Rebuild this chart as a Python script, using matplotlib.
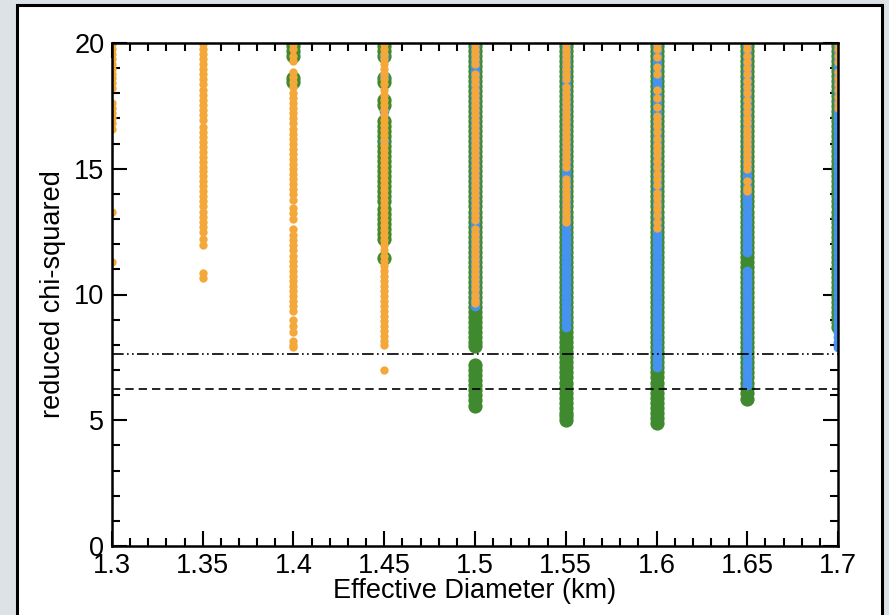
import matplotlib
matplotlib.use("Agg")
import matplotlib.pyplot as plt
from matplotlib.patches import Rectangle
from matplotlib.ticker import MultipleLocator

plt.rcParams['font.family'] = ['Liberation Sans', 'DejaVu Sans']

# ---------------- data ----------------
diameters = [1.30, 1.35, 1.40, 1.45, 1.50, 1.55, 1.60, 1.65, 1.70]

green_chi2 = {
    1.40: [19.9, 19.7, 19.5, 18.6, 18.45],
    1.45: [19.9, 19.7, 19.5, 18.6, 18.45, 17.75, 17.55, 16.9, 16.7, 16.5, 16.3, 16.1, 15.9,
           15.7, 15.5, 15.3, 15.1, 14.9, 14.7, 14.5, 14.3, 14.1, 13.9, 13.7, 13.4, 13.2,
           13.0, 12.8, 12.6, 12.4, 12.2, 11.45],
    1.50: [19.9, 19.7, 19.5, 19.3, 19.1, 18.9, 18.7, 18.5, 18.3, 18.1, 17.9, 17.7, 17.5,
           17.3, 17.1, 16.9, 16.7, 16.5, 16.3, 16.1, 15.9, 15.7, 15.5, 15.3, 15.1, 14.9,
           14.7, 14.5, 14.3, 14.1, 13.9, 13.7, 13.5, 13.3, 13.1, 12.9, 12.7, 12.5, 12.3,
           12.1, 11.9, 11.7, 11.5, 11.3, 11.1, 10.9, 10.7, 10.5, 10.3, 10.1, 9.9, 9.7,
           9.5, 9.3, 9.1, 8.9, 8.7, 8.5, 8.3, 8.1, 7.95,
           7.2, 7.0, 6.8, 6.6, 6.4, 6.2, 6.0, 5.8, 5.55],
    1.55: [19.9, 19.7, 19.5, 19.3, 19.1, 18.9, 18.7, 18.5, 18.3, 18.1, 17.9, 17.7, 17.5,
           17.3, 17.1, 16.9, 16.7, 16.5, 16.3, 16.1, 15.9, 15.7, 15.5, 15.3, 15.1, 14.9,
           14.7, 14.5, 14.3, 14.1, 13.9, 13.7, 13.5, 13.3, 13.1, 12.9, 12.7, 12.5, 12.3,
           12.1, 11.9, 11.7, 11.5, 11.3, 11.1, 10.9, 10.7, 10.5, 10.3, 10.1, 9.9, 9.7,
           9.5, 9.3, 9.1, 8.9, 8.7, 8.5, 8.3, 8.1, 7.9, 7.7, 7.5, 7.3, 7.1, 6.9, 6.7,
           6.5, 6.3, 6.1, 5.9, 5.7, 5.5, 5.3, 5.15, 5.0],
    1.60: [19.9, 19.7, 19.5, 19.3, 19.1, 18.9, 18.7, 18.5, 18.3, 18.1, 17.9, 17.7, 17.5,
           17.3, 17.1, 16.9, 16.7, 16.5, 16.3, 16.1, 15.9, 15.7, 15.5, 15.3, 15.1, 14.9,
           14.7, 14.5, 14.3, 14.1, 13.9, 13.7, 13.5, 13.3, 13.1, 12.9, 12.7, 12.5, 12.3,
           12.1, 11.9, 11.7, 11.5, 11.3, 11.1, 10.9, 10.7, 10.5, 10.3, 10.1, 9.9, 9.7,
           9.5, 9.3, 9.1, 8.9, 8.7, 8.5, 8.3, 8.1, 7.9, 7.7, 7.5, 7.3, 7.1, 6.9, 6.7,
           6.5, 6.3, 6.1, 5.9, 5.7, 5.5, 5.3, 5.1, 4.9],
    1.65: [19.9, 19.7, 19.5, 19.3, 19.1, 18.9, 18.7, 18.5, 18.3, 18.1, 17.9, 17.7, 17.5,
           17.3, 17.1, 16.9, 16.7, 16.5, 16.3, 16.1, 15.9, 15.7, 15.5, 15.3, 15.1, 14.9,
           14.7, 14.5, 14.3, 14.1, 13.9, 13.7, 13.5, 13.3, 13.1, 12.9, 12.7, 12.5, 12.3,
           12.1, 11.9, 11.7, 11.5, 11.3, 11.1, 10.9, 10.7, 10.5, 10.3, 10.1, 9.9, 9.7,
           9.5, 9.3, 9.1, 8.9, 8.7, 8.5, 8.3, 8.1, 7.9, 7.7, 7.5, 7.3, 7.1, 6.9, 6.7,
           6.5, 6.3, 6.1, 5.85],
    1.70: [19.9, 19.7, 19.5, 19.3, 19.1, 18.9, 18.7, 18.5, 18.3, 18.1, 17.9, 17.7, 17.5,
           17.3, 17.1, 16.9, 16.7, 16.5, 16.3, 16.1, 15.9, 15.7, 15.5, 15.3, 15.1, 14.9,
           14.7, 14.5, 14.3, 14.1, 13.9, 13.7, 13.5, 13.3, 13.1, 12.9, 12.7, 12.5, 12.3,
           12.1, 11.9, 11.7, 11.5, 11.3, 11.1, 10.9, 10.7, 10.5, 10.3, 10.1, 9.9, 9.7,
           9.5, 9.3, 9.1, 8.9, 8.7],
}

blue_chi2 = {
    1.45: [19.5, 18.7, 17.3, 16.1],
    1.50: [19.9, 19.7, 19.5, 19.3, 19.1, 18.9, 18.7, 18.5, 18.3, 18.1, 17.9, 17.7, 17.5,
           17.3, 17.1, 16.9, 16.7, 16.5, 16.3, 16.1, 15.9, 15.7, 15.5, 15.3, 15.1, 14.9,
           14.7, 14.5, 14.3, 14.1, 13.9, 13.7, 13.5, 13.3, 13.1, 12.9, 12.7, 12.5, 12.3,
           12.1, 11.9, 11.7, 11.5, 11.3, 11.1, 10.9, 10.7, 10.5, 10.3, 10.1, 9.9, 9.7,
           9.55],
    1.55: [19.9, 19.7, 19.5, 19.3, 19.1, 18.9, 18.7, 18.5, 18.3, 18.1, 17.9, 17.7, 17.5,
           17.3, 17.1, 16.9, 16.7, 16.5, 16.3, 16.1, 15.9, 15.7, 15.5, 15.3, 15.1, 14.9,
           14.7, 14.5, 14.3, 14.1, 13.9, 13.7, 13.5, 13.3, 13.1, 12.9, 12.7, 12.5, 12.3,
           12.1, 11.9, 11.7, 11.5, 11.3, 11.1, 10.9, 10.7, 10.5, 10.3, 10.1, 9.9, 9.7,
           9.5, 9.3, 9.1, 8.9, 8.7],
    1.60: [19.9, 19.7, 19.5, 19.3, 19.1, 18.9, 18.7, 18.5, 18.3, 18.1, 17.9, 17.7, 17.5,
           17.3, 17.1, 16.9, 16.7, 16.5, 16.3, 16.1, 15.9, 15.7, 15.5, 15.3, 15.1, 14.9,
           14.7, 14.5, 14.3, 14.1, 13.9, 13.7, 13.5, 13.3, 13.1, 12.9, 12.7, 12.5, 12.3,
           12.1, 11.9, 11.7, 11.5, 11.3, 11.1, 10.9, 10.7, 10.5, 10.3, 10.1, 9.9, 9.7,
           9.5, 9.3, 9.1, 8.9, 8.7, 8.5, 8.3, 8.1, 7.9, 7.7, 7.5, 7.3, 7.1],
    1.65: [19.9, 19.7, 19.5, 19.3, 19.1, 18.9, 18.7, 18.5, 18.3, 18.1, 17.9, 17.7, 17.5,
           17.3, 17.1, 16.9, 16.7, 16.5, 16.3, 16.1, 15.9, 15.7, 15.5, 15.3, 15.1, 14.9,
           14.7, 14.5, 14.3, 14.1, 13.9, 13.7, 13.5, 13.3, 13.1, 12.9, 12.7, 12.5, 12.3,
           12.1, 11.9, 11.7,
           10.95, 10.75, 10.55, 10.35, 10.15, 9.95, 9.75, 9.55, 9.35, 9.15, 8.95, 8.75,
           8.55, 8.35, 8.15, 7.95, 7.75, 7.55, 7.35, 7.15, 6.95, 6.75, 6.55, 6.4],
    1.70: [19.9, 19.7, 19.5, 19.3, 19.1, 18.9, 18.7, 18.5, 18.3, 18.1, 17.9, 17.7, 17.5,
           17.3, 17.1, 16.9, 16.7, 16.5, 16.3, 16.1, 15.9, 15.7, 15.5, 15.3, 15.1, 14.9,
           14.7, 14.5, 14.3, 14.1, 13.9, 13.7, 13.5, 13.3, 13.1, 12.9, 12.7, 12.5, 12.3,
           12.1, 11.9, 11.7, 11.5, 11.3, 11.1, 10.9, 10.7, 10.5, 10.3, 10.1, 9.9, 9.7,
           9.5, 9.3, 9.1, 8.9, 8.7, 8.5, 8.3, 8.1, 7.9],
}

orange_chi2 = {
    1.30: [19.95, 19.75, 19.55, 19.35, 19.15, 18.95, 18.75, 18.6, 18.4, 18.2, 17.6, 17.4,
           17.2, 17.0, 16.8, 16.6, 13.3, 11.3],
    1.35: [19.95, 19.75, 19.55, 19.35, 19.15, 18.95, 18.75, 18.55, 18.35, 18.15, 17.95,
           17.75, 17.55, 17.35, 17.15, 16.95, 16.65, 16.45, 16.25, 16.05, 15.85, 15.65,
           15.45, 15.25, 15.05, 14.9, 14.7, 14.5, 14.3, 14.1, 13.9, 13.7, 13.5, 13.3,
           13.1, 12.9, 12.7, 12.5, 12.2, 11.95, 10.85, 10.65],
    1.40: [19.95, 19.75, 19.5, 19.3, 18.85, 18.65, 18.45, 18.25, 18.0, 17.8, 17.6, 17.4,
           17.2, 17.0, 16.8, 16.6, 16.4, 16.2, 16.0, 15.8, 15.6, 15.4, 15.2, 15.0, 14.8,
           14.6, 14.4, 14.2, 14.0, 13.75, 13.45, 13.25, 13.0, 12.6, 12.35, 12.15, 11.95,
           11.75, 11.55, 11.35, 11.15, 10.95, 10.75, 10.55, 10.35, 10.15, 9.95, 9.75,
           9.55, 9.35, 9.0, 8.75, 8.5, 8.15, 8.0, 7.9],
    1.45: [19.95, 19.75, 19.55, 19.35, 19.15, 18.95, 18.75, 18.55, 18.35, 18.15, 17.95,
           17.75, 17.55, 17.35, 17.15, 16.95, 16.75, 16.55, 16.35, 16.15, 15.95, 15.75,
           15.55, 15.35, 15.15, 14.95, 14.75, 14.55, 14.35, 14.15, 13.95, 13.75, 13.55,
           13.35, 13.15, 12.95, 12.75, 12.55, 12.35, 12.15, 11.95, 11.75, 11.55, 11.35,
           11.15, 10.95, 10.75, 10.55, 10.35, 10.15, 9.95, 9.75, 9.55, 9.35, 9.15, 8.95,
           8.75, 8.55, 8.35, 8.15, 8.0, 7.0],
    1.50: [19.95, 19.75, 19.55, 19.35, 19.15, 18.75, 18.55, 18.35, 18.15, 17.95, 17.75,
           17.55, 17.35, 17.15, 16.95, 16.75, 16.55, 16.35, 16.15, 15.95, 15.75, 15.55,
           15.35, 15.15, 14.95, 14.75, 14.55, 14.35, 14.15, 13.95, 13.75, 13.55, 13.35,
           13.15, 12.95, 12.6, 12.4, 12.2, 12.0, 11.8, 11.6, 11.4, 11.2, 11.0, 10.8,
           10.6, 10.4, 10.2, 10.0, 9.8, 9.65],
    1.55: [19.95, 19.75, 19.55, 19.35, 19.15, 18.95, 18.75, 18.55, 18.25, 18.05, 17.85,
           17.65, 17.45, 17.25, 17.05, 16.85, 16.65, 16.45, 16.25, 16.05, 15.85, 15.65,
           15.45, 15.25, 15.05, 14.6, 14.4, 14.2, 14.0, 13.8, 13.6, 13.4, 13.2, 13.0,
           12.9],
    1.60: [19.95, 19.75, 19.45, 19.05, 18.75, 18.15, 17.8, 17.45, 17.1, 16.9, 16.7, 16.45,
           16.2, 15.95, 15.75, 15.55, 15.3, 15.05, 14.8, 14.6, 14.35, 14.05, 13.85, 13.6,
           13.4, 13.15, 12.9, 12.65],
    1.65: [19.95, 19.75, 19.5, 19.25, 19.0, 18.75, 18.5, 18.25, 18.0, 17.75, 17.5, 17.25,
           17.0, 16.8, 16.6, 16.4, 16.2, 16.0, 15.8, 15.6, 15.4, 15.2, 15.0, 14.5, 14.25,
           14.1],
    1.70: [19.95, 19.75, 19.5, 19.25, 18.85, 18.6, 18.35, 18.15, 17.85, 17.6, 17.4],
}

chi2_limit_upper = 7.65   # dash-dot-dot line
chi2_limit_lower = 6.25   # dashed line

xtick_labels = ['1.3', '1.35', '1.4', '1.45', '1.5', '1.55', '1.6', '1.65', '1.7']
ytick_labels = ['0', '5', '10', '15', '20']

# ---------------- figure ----------------
W, H = 889, 615
fig = plt.figure(figsize=(W / 100, H / 100), dpi=100)
fig.patch.set_facecolor('#dde2e6')

# white panel with black frame (background axes)
bg = fig.add_axes([0, 0, 1, 1], zorder=-10)
bg.set_xlim(0, W)
bg.set_ylim(H, 0)
bg.axis('off')
bg.add_patch(Rectangle((17, 5), 882 - 17, 640, facecolor='white',
                       edgecolor='black', linewidth=2.2))

ax = fig.add_axes([112 / W, (H - 546) / H, (838 - 112) / W, (546 - 43) / H], zorder=1)
ax.set_facecolor('white')

c_green = '#3f8a2e'
c_blue = '#4592f0'
c_orange = '#f5a83a'

for d, ys in green_chi2.items():
    ax.scatter([d] * len(ys), ys, s=105, color=c_green, linewidths=0, zorder=2)
for d, ys in blue_chi2.items():
    ax.scatter([d] * len(ys), ys, s=50, color=c_blue, linewidths=0, zorder=3)
for d, ys in orange_chi2.items():
    ax.scatter([d] * len(ys), ys, s=36, color=c_orange, linewidths=0, zorder=4)

ax.axhline(chi2_limit_upper, color='black', linewidth=1.2,
           linestyle=(0, (7, 2, 1, 2, 1, 2)), zorder=5)
ax.axhline(chi2_limit_lower, color='black', linewidth=1.2,
           linestyle=(0, (5, 3)), zorder=5)

ax.set_xlim(1.3, 1.7)
ax.set_ylim(0, 20)
ax.set_xticks(diameters)
ax.set_xticklabels(xtick_labels)
ax.set_yticks([0, 5, 10, 15, 20])
ax.set_yticklabels(ytick_labels)
ax.xaxis.set_minor_locator(MultipleLocator(0.01))
ax.yaxis.set_minor_locator(MultipleLocator(1))

ax.tick_params(which='both', direction='in', top=True, right=True, width=1.5,
               labelsize=19.5, colors='black')
ax.tick_params(which='major', length=10.5)
ax.tick_params(which='minor', length=5.5)
ax.tick_params(axis='x', which='major', pad=5)
ax.tick_params(axis='y', which='major', pad=5.5)
for sp in ax.spines.values():
    sp.set_linewidth(1.8)
    sp.set_zorder(6)

ax.set_xlabel('Effective Diameter (km)', fontsize=19.5, labelpad=-1)
ax.set_ylabel('reduced chi-squared', fontsize=19.5, labelpad=6)

fig.savefig('out.png', dpi=100, facecolor=fig.get_facecolor())
